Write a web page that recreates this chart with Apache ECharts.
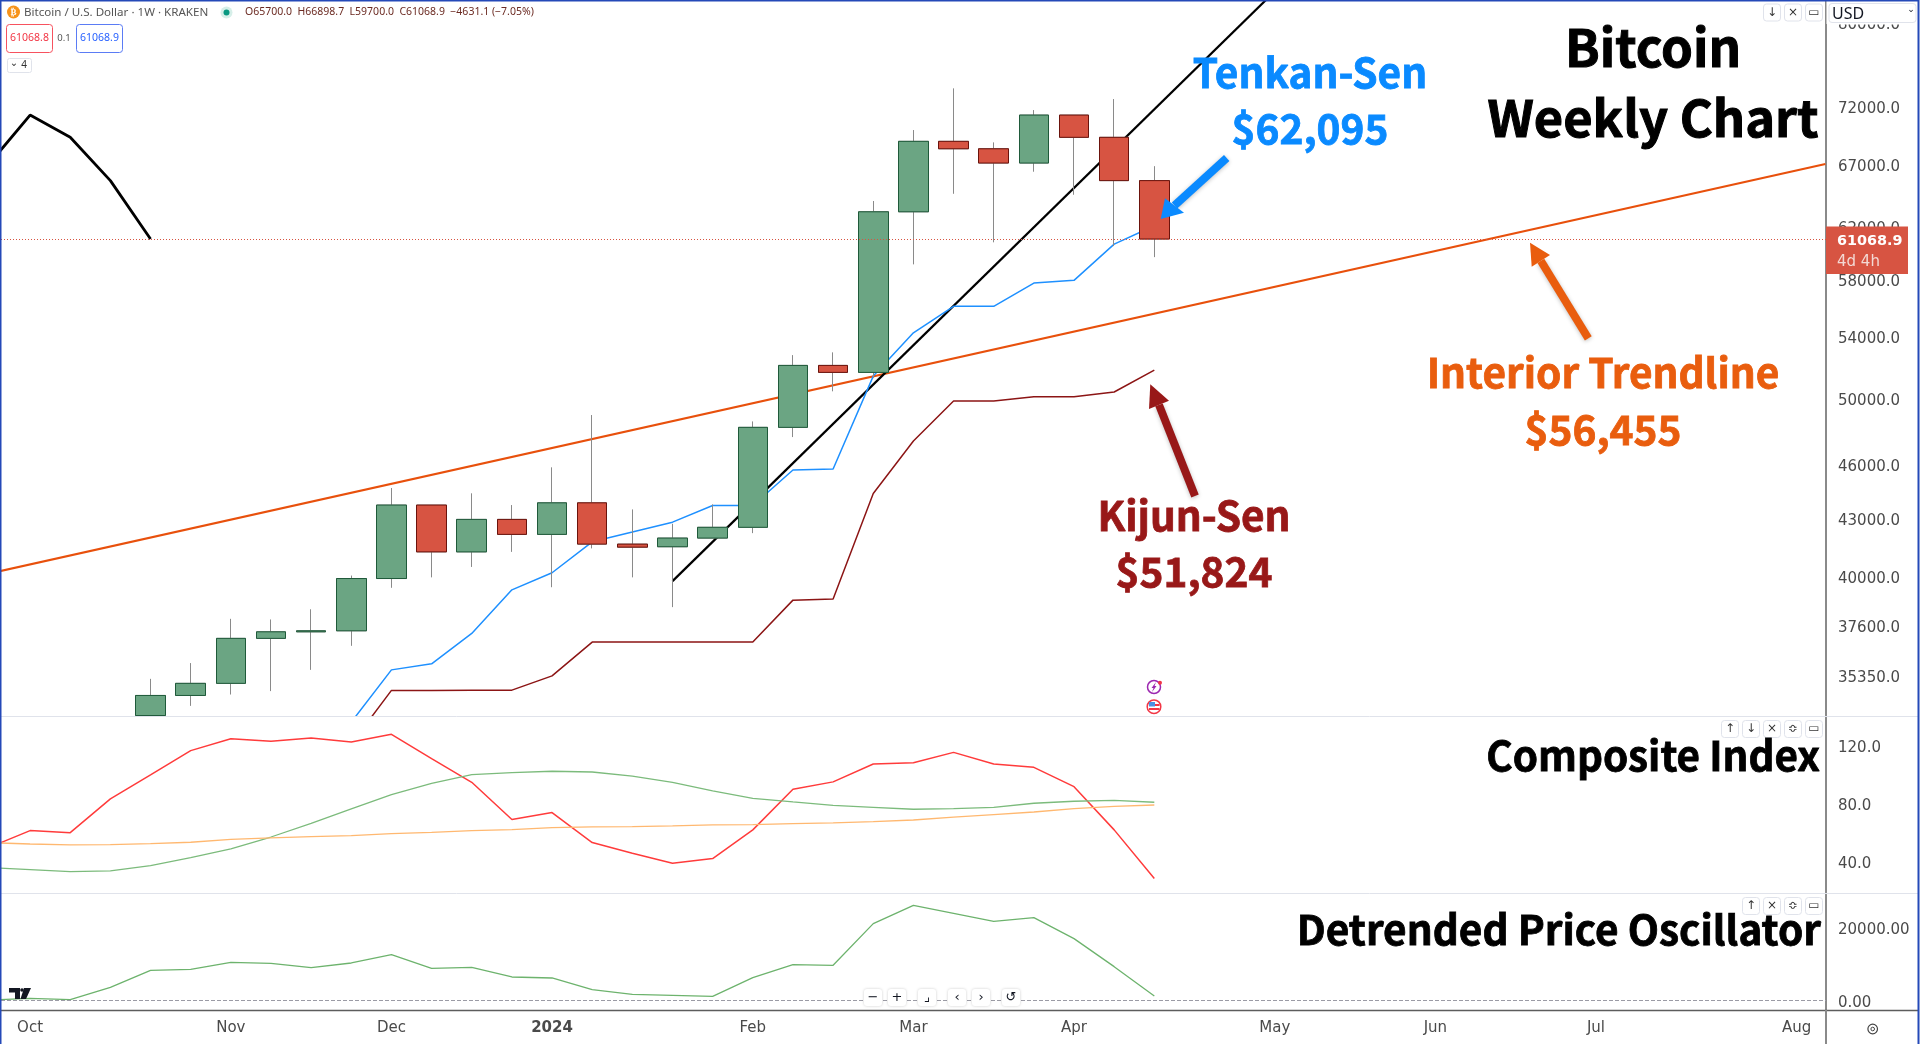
<!DOCTYPE html>
<html>
<head>
<meta charset="utf-8">
<title>Bitcoin Weekly Chart</title>
<script src="https://cdn.jsdelivr.net/npm/echarts@6/dist/echarts.min.js"></script>
<style>
html, body { margin: 0; padding: 0; background: #fff; }
#main { width: 1920px; height: 1044px; }
</style>
</head>
<body>
<div id="main"></div>
<script>
// weekly bars, Sep 25 2023 .. Apr 15 2024
var weeks = ['2023-09-25','2023-10-02','2023-10-09','2023-10-16','2023-10-23','2023-10-30','2023-11-06','2023-11-13','2023-11-20','2023-11-27','2023-12-04','2023-12-11','2023-12-18','2023-12-25','2024-01-01','2024-01-08','2024-01-15','2024-01-22','2024-01-29','2024-02-05','2024-02-12','2024-02-19','2024-02-26','2024-03-04','2024-03-11','2024-03-18','2024-03-25','2024-04-01','2024-04-08','2024-04-15'];
var candleWeeks = weeks.slice(4);
var ichimokuWeeks = weeks.slice(9);

// first bar runs off the bottom of the pane, its open and low are cut at the pane edge
var opens  = [33640,34495,35022,37050,37355,37402,39931,43776,41285,42998,42199,43898,41688,41551,42005,42574,48247,52135,51682,63186,69009,68371,67160,71316,69357,65700];
var closes = [34495,35022,37050,37355,37402,39931,43776,41285,42998,42199,43898,41688,41530,42005,42574,48247,52135,51682,63186,69009,68371,67160,71316,69357,65700,61068.9];
var lows   = [33640,34049,34536,34684,35618,36706,39470,39989,40514,41285,39499,41465,39989,38527,42005,42264,47664,50472,51314,59162,64626,60818,66435,64547,60531,59700];
var highs  = [35220,35922,37967,37937,38424,40080,44719,43776,44424,43776,45893,48996,43538,42761,43812,48607,52812,52994,64044,69992,73741,68920,71763,71316,72760,66898.7];

var tenkan = [33365,35618,35889,37281,39369,40220,41808,42322,42849,43754,43754,45737,45794,51443,54307,56136,56136,57794,57990,60684,62095];
var kijun  = [32466,34714,34714,34725,34725,35351,36878,36878,36878,36878,36878,38866,38923,44411,47433,49860,49860,50130,50130,50429,51824];
var chikou = [67160,71316,69357,65700,61068.9];
var chikouWeeks = weeks.slice(0, 5);
var lastPrice = 61068.9;

// drawn lines, ends in date and price
var interiorDates = ['2023-09-26', '2024-08-10'];
var interiorPrices = [40250, 67076];
var blackDates = ['2024-01-22', '2024-05-13'];
var blackPrices = [39800, 87458];

var compositeRed = [50.2,61.6,60.2,83.4,99.9,116.6,124.8,123.0,125.3,122.6,127.8,111.1,94.8,69.2,74.0,53.4,46.0,39.2,42.4,62.1,90.0,95.1,107.4,108.3,115.4,107.4,105.1,91.8,62.1,28.6];
var compositeGreen = [36.2,34.8,33.4,33.9,37.5,43.0,49.0,57.2,66.6,76.5,86.3,94.1,100.1,101.5,102.4,101.9,99.0,94.8,88.9,83.8,81.3,79.0,77.6,76.3,76.7,77.6,80.4,81.8,82.4,81.1];
var compositeOrange = [53.3,52.4,51.8,52.0,52.7,53.6,55.6,56.6,57.5,58.2,59.5,60.4,61.6,62.3,63.7,64.1,64.3,64.8,65.5,65.7,66.4,66.9,67.8,68.9,70.8,72.6,74.4,76.7,78.3,79.2];
var dpo = [196,653,288,3666,8325,8599,10516,10243,9055,10334,12617,8871,9145,6496,6222,3026,1748,1474,1200,6314,9876,9693,21108,26131,23939,21747,22752,16999,9328,1291];

var priceTicks = [80000,72000,67000,62000,58000,54000,50000,46000,43000,40000,37600,35350];
var compositeTicks = [120,80,40];
var dpoTicks = [20000,0];
var timeTicks = ['2023-10-02','2023-11-06','2023-12-04','2024-01-01','2024-02-05','2024-03-04','2024-04-01','2024-05-06','2024-06-03','2024-07-01','2024-08-05'];
var timeLabels = ['Oct','Nov','Dec','2024','Feb','Mar','Apr','May','Jun','Jul','Aug'];

var DAY = 86400000;
function ms(d) { return echarts.number.parseDate(d).getTime(); }
var xMin = ms('2023-10-02') - 5.07 * DAY;
var xMax = ms('2024-04-15') + 117.1 * DAY;

var axisFont = '"DejaVu Sans"';
var bigFont = '"Noto Sans CJK SC"';
var green = '#6ba583', greenEdge = '#1f5a3a', red = '#d75442', redEdge = '#6b130c', wick = '#8a8a8a';

function zip(xs, ys) {
    return xs.map(function (x, i) { return [ms(x), ys[i]]; });
}
function lineSeries(name, gridIdx, data, color, width) {
    return {
        name: name, type: 'line', xAxisIndex: gridIdx, yAxisIndex: gridIdx,
        data: data, symbol: 'none', silent: true, clip: true, z: 2,
        lineStyle: { color: color, width: width }
    };
}
function xAxisAt(gridIdx) {
    return {
        type: 'value', gridIndex: gridIdx, min: xMin, max: xMax,
        axisLine: { show: false }, axisTick: { show: false }, splitLine: { show: false },
        axisLabel: { show: false }, axisPointer: { show: false }
    };
}
function yAxisAt(gridIdx, min, max, ticks, digits, type) {
    return {
        type: type, gridIndex: gridIdx, position: 'right', min: min, max: max, scale: true,
        axisLine: { show: true, onZero: false, lineStyle: { color: '#8a8a8a', width: 2 } },
        axisTick: { show: false }, splitLine: { show: false },
        axisLabel: {
            customValues: ticks, margin: 12, color: '#4a4a4a', fontFamily: axisFont, fontSize: 15,
            showMinLabel: true, showMaxLabel: true, hideOverlap: false,
            verticalAlign: 'top', lineHeight: 4,
            formatter: function (v) { return Number(v).toFixed(digits); }
        }
    };
}

// little pane buttons and chrome, none of this is data
var graphics = [];
function addText(text, x, y, color, font, align, thicken) {
    graphics.push({ type: 'text', z: 20, silent: true, style: { text: text, x: x, y: y, fill: color, font: font, textAlign: align || 'left', textVerticalAlign: 'middle', stroke: thicken ? color : null, lineWidth: thicken || 0 } });
}
function addBox(x, y, w, h, stroke, r, fill, z) {
    graphics.push({ type: 'rect', z: z || 19, silent: true, shape: { x: x, y: y, width: w, height: h, r: r }, style: { fill: fill || '#fff', stroke: stroke, lineWidth: 1 } });
}
function addLine(x1, y1, x2, y2, color, width) {
    graphics.push({ type: 'line', z: 18, silent: true, shape: { x1: x1, y1: y1, x2: x2, y2: y2 }, style: { stroke: color, lineWidth: width } });
}
function addArrow(tail, tip, wingA, wingB, color) {
    var neck = [(wingA[0] + wingB[0]) / 2, (wingA[1] + wingB[1]) / 2];
    graphics.push({ type: 'line', z: 15, silent: true, shape: { x1: tail[0], y1: tail[1], x2: neck[0], y2: neck[1] },
        style: { stroke: color, lineWidth: 8, shadowBlur: 4, shadowColor: 'rgba(0,0,0,0.25)', shadowOffsetY: 1 } });
    graphics.push({ type: 'polygon', z: 16, silent: true, shape: { points: [tip, wingA, wingB] }, style: { fill: color } });
}
function addButtons(y, xs, glyphs) {
    xs.forEach(function (x, i) {
        addBox(x + 0.5, y + 0.5, 17, 17, '#e0e3eb', 3);
        addText(glyphs[i], x + 9, y + 9, '#333', '12px ' + axisFont, 'center');
    });
}

// page frame and pane separators
addLine(0, 716.5, 1826, 716.5, '#e0e3eb', 1);
addLine(1826, 716.5, 1918, 716.5, '#e0e3eb', 1);
addLine(0, 893.5, 1826, 893.5, '#e0e3eb', 1);
addLine(1826, 893.5, 1918, 893.5, '#e0e3eb', 1);
addLine(0, 1010.5, 1918, 1010.5, '#5d5d5d', 1.5);
addLine(1826, 1010, 1826, 1044, '#8a8a8a', 2);

// top-left legend
graphics.push({ type: 'circle', z: 20, silent: true, shape: { cx: 13.5, cy: 12, r: 6.5 }, style: { fill: '#f7931a' } });
addText('₿', 13.5, 12.5, '#fff', 'bold 9px ' + axisFont, 'center');
addText('Bitcoin / U.S. Dollar · 1W · KRAKEN', 24, 12.5, '#555', '11.6px "Noto Sans"');
graphics.push({ type: 'circle', z: 20, silent: true, shape: { cx: 226.5, cy: 12.5, r: 6 }, style: { fill: '#d6efe9' } });
graphics.push({ type: 'circle', z: 20, silent: true, shape: { cx: 226.5, cy: 12.5, r: 3 }, style: { fill: '#089981' } });
addText('O65700.0  H66898.7  L59700.0  C61068.9  −4631.1 (−7.05%)', 245, 12.5, '#6b2a22', '10.5px "Noto Sans"');
addBox(6.5, 24.5, 46, 28, '#f7525f', 3);
addText('61068.8', 29.5, 38.5, '#f23645', '10.5px "Noto Sans"', 'center');
addText('0.1', 64, 38, '#555', '9.5px "Noto Sans"', 'center');
addBox(76.5, 24.5, 46, 28, '#5b7cf5', 3);
addText('61068.9', 99.5, 38.5, '#2962ff', '10.5px "Noto Sans"', 'center');
addBox(7.5, 58.5, 24, 14, '#e0e3eb', 2);
addText('⌄', 14, 63, '#333', '10px ' + axisFont, 'center');
addText('4', 24, 65.5, '#333', '10px "Noto Sans"', 'center');

// USD box sits over the top price label
addBox(1827, 1, 91, 23, '#fff', 0, '#fff', 18);
addBox(1829, 3.5, 87, 19, '#e0e3eb', 3, '#fff', 19);
addText('USD', 1832, 14, '#131722', '16px "Noto Sans"');
addText('⌄', 1911, 10, '#131722', '9px ' + axisFont, 'center');

// last price tag
graphics.push({ type: 'rect', z: 18, silent: true, shape: { x: 1826, y: 226.5, width: 82, height: 47.5 }, style: { fill: red } });
addText('61068.9', 1837, 241, '#fff', 'bold 14.4px ' + axisFont);
addText('4d 4h', 1837, 262, '#f3d9d4', '15px ' + axisFont);

// pane buttons
addButtons(3.5, [1763, 1784, 1805], ['↓', '×', '▭']);
addButtons(720, [1721, 1742, 1763, 1784, 1805], ['↑', '↓', '×', '≎', '▭']);
addButtons(897, [1742, 1763, 1784, 1805], ['↑', '×', '≎', '▭']);

// annotations
addText('Bitcoin', 1653, 48, '#000', 'bold 51px ' + bigFont, 'center', 1);
addText('Weekly Chart', 1653, 118, '#000', 'bold 50.6px ' + bigFont, 'center', 1);
addText('Tenkan-Sen', 1310, 73, '#0a8aff', 'bold 40.6px ' + bigFont, 'center', 0.8);
addText('$62,095', 1310, 129, '#0a8aff', 'bold 40.6px ' + bigFont, 'center', 0.8);
addText('Interior Trendline', 1603, 373, '#e95d0e', 'bold 40.6px ' + bigFont, 'center', 0.8);
addText('$56,455', 1603, 430, '#e95d0e', 'bold 40.6px ' + bigFont, 'center', 0.8);
addText('Kijun-Sen', 1194, 516, '#981818', 'bold 40.6px ' + bigFont, 'center', 0.8);
addText('$51,824', 1194, 572, '#981818', 'bold 40.6px ' + bigFont, 'center', 0.8);
addText('Composite Index', 1820, 756, '#000', 'bold 40.4px ' + bigFont, 'right', 0.8);
addText('Detrended Price Oscillator', 1821, 930, '#000', 'bold 40.6px ' + bigFont, 'right', 0.8);
addArrow([1226.7, 158], [1160.7, 219], [1165, 198.3], [1184, 212.7], '#0a8aff');
addArrow([1588.3, 338.3], [1530, 242.7], [1550, 255], [1531.7, 266.7], '#e95d0e');
addArrow([1195, 496], [1150.3, 384.3], [1169, 400.7], [1149, 409], '#981818');

// event markers
graphics.push({ type: 'circle', z: 16, silent: true, shape: { cx: 1154, cy: 687, r: 6.5 }, style: { fill: '#fff', stroke: '#9c27b0', lineWidth: 1.5 } });
graphics.push({ type: 'polygon', z: 17, silent: true, shape: { points: [[1156, 682], [1151.5, 688], [1153.5, 688], [1152, 692], [1156.5, 686], [1154.5, 686]] }, style: { fill: '#9c27b0' } });
graphics.push({ type: 'circle', z: 17, silent: true, shape: { cx: 1160, cy: 682.7, r: 2 }, style: { fill: '#f23645' } });
graphics.push({ type: 'circle', z: 16, silent: true, shape: { cx: 1154, cy: 706.7, r: 6.8 }, style: { fill: '#fff', stroke: '#f23645', lineWidth: 1.5 } });
graphics.push({ type: 'rect', z: 17, silent: true, shape: { x: 1149, y: 702, width: 6, height: 4.5 }, style: { fill: '#4a90e2' } });
graphics.push({ type: 'rect', z: 17, silent: true, shape: { x: 1155, y: 704, width: 4.5, height: 2 }, style: { fill: '#f23645' } });
graphics.push({ type: 'rect', z: 17, silent: true, shape: { x: 1149, y: 708, width: 10.5, height: 2 }, style: { fill: '#f23645' } });

// bottom zoom toolbar
[[864, '−'], [888, '+'], [918, '⌟'], [948, '‹'], [972, '›'], [1002, '↺']].forEach(function (b) {
    graphics.push({ type: 'rect', z: 19, silent: true, shape: { x: b[0], y: 989, width: 18, height: 17, r: 3 }, style: { fill: '#fff', shadowBlur: 3, shadowColor: 'rgba(0,0,0,0.2)' } });
    addText(b[1], b[0] + 9, 997.5, '#131722', '13px ' + axisFont, 'center');
});

// TradingView mark
graphics.push({ type: 'polygon', z: 19, silent: true, shape: { points: [[9, 988], [20, 988], [20, 999], [15, 999], [15, 992.5], [9, 992.5]] }, style: { fill: '#131722' } });
graphics.push({ type: 'polygon', z: 19, silent: true, shape: { points: [[24, 988], [31, 988], [26, 999], [20.5, 999]] }, style: { fill: '#131722' } });
graphics.push({ type: 'circle', z: 19, silent: true, shape: { cx: 22, cy: 990, r: 1.8 }, style: { fill: '#131722' } });

// settings gear
graphics.push({ type: 'circle', z: 19, silent: true, shape: { cx: 1872.7, cy: 1029, r: 4.8 }, style: { fill: 'none', stroke: '#444', lineWidth: 1.2 } });
graphics.push({ type: 'circle', z: 19, silent: true, shape: { cx: 1872.7, cy: 1029, r: 1.8 }, style: { fill: 'none', stroke: '#444', lineWidth: 1 } });

// outer blue border
graphics.push({ type: 'rect', z: 30, silent: true, shape: { x: 0.5, y: 0.5, width: 1918, height: 1100 }, style: { fill: 'none', stroke: '#2449b8', lineWidth: 2 } });

var option = {
    animation: false,
    backgroundColor: '#ffffff',
    grid: [
        { left: 1, width: 1825, top: 1, height: 715 },
        { left: 1, width: 1825, top: 716, height: 177 },
        { left: 1, width: 1825, top: 893, height: 117 }
    ],
    xAxis: [
        xAxisAt(0),
        xAxisAt(1),
        Object.assign(xAxisAt(2), {
            axisLabel: {
                show: true, customValues: timeTicks.map(ms), margin: 11, color: '#4a4a4a',
                fontFamily: axisFont, fontSize: 15, hideOverlap: false,
                formatter: function (v) {
                    var s = timeLabels[timeTicks.map(ms).indexOf(+v)];
                    return s === '2024' ? '{b|' + s + '}' : s;
                },
                rich: { b: { fontWeight: 'bold', fontFamily: axisFont, fontSize: 15, color: '#4a4a4a' } }
            }
        })
    ],
    yAxis: [
        yAxisAt(0, 33620, 82258, priceTicks, 1, 'log'),
        yAxisAt(1, 18.7, 140.4, compositeTicks, 1, 'value'),
        yAxisAt(2, -2548, 29507, dpoTicks, 2, 'value')
    ],
    series: [
        lineSeries('Interior Trendline', 0, zip(interiorDates, interiorPrices), '#e8500c', 2.2),
        lineSeries('Rising Trendline', 0, zip(blackDates, blackPrices), '#000000', 2.2),
        lineSeries('Tenkan-Sen', 0, zip(ichimokuWeeks, tenkan), '#1e90ff', 1.5),
        lineSeries('Kijun-Sen', 0, zip(ichimokuWeeks, kijun), '#8c1515', 1.5),
        lineSeries('Lagging Span', 0, zip(chikouWeeks, chikou), '#000000', 2.8),
        {
            name: 'Wicks', type: 'candlestick', xAxisIndex: 0, yAxisIndex: 0, barWidth: 30, z: 3, silent: true,
            data: candleWeeks.map(function (w, i) { return [ms(w), opens[i], closes[i], lows[i], highs[i]]; }),
            itemStyle: { color: green, color0: red, borderColor: wick, borderColor0: wick, borderWidth: 1 }
        },
        {
            name: 'Bodies', type: 'candlestick', xAxisIndex: 0, yAxisIndex: 0, barWidth: 30, z: 4, silent: true,
            data: candleWeeks.map(function (w, i) {
                return [ms(w), opens[i], closes[i], Math.min(opens[i], closes[i]), Math.max(opens[i], closes[i])];
            }),
            itemStyle: { color: green, color0: red, borderColor: greenEdge, borderColor0: redEdge, borderWidth: 1 },
            markLine: {
                silent: true, symbol: 'none', z: 5, label: { show: false },
                lineStyle: { type: [1, 2], color: '#d75442', width: 1 },
                data: [{ yAxis: lastPrice }]
            }
        },
        lineSeries('Composite Index', 1, zip(weeks, compositeRed), '#ff3b3b', 1.5),
        lineSeries('Composite Slow', 1, zip(weeks, compositeGreen), '#7cbb7c', 1.3),
        lineSeries('Composite Fast', 1, zip(weeks, compositeOrange), '#ffb870', 1.3),
        Object.assign(lineSeries('Detrended Price Oscillator', 2, zip(weeks, dpo), '#6db36d', 1.3), {
            markLine: {
                silent: true, symbol: 'none', label: { show: false },
                lineStyle: { type: 'dashed', color: '#9b9ba5', width: 1 },
                data: [{ yAxis: 0 }]
            }
        })
    ],
    graphic: graphics
};

var myChart = echarts.init(document.getElementById('main'));
myChart.setOption(option);
</script>
</body>
</html>
